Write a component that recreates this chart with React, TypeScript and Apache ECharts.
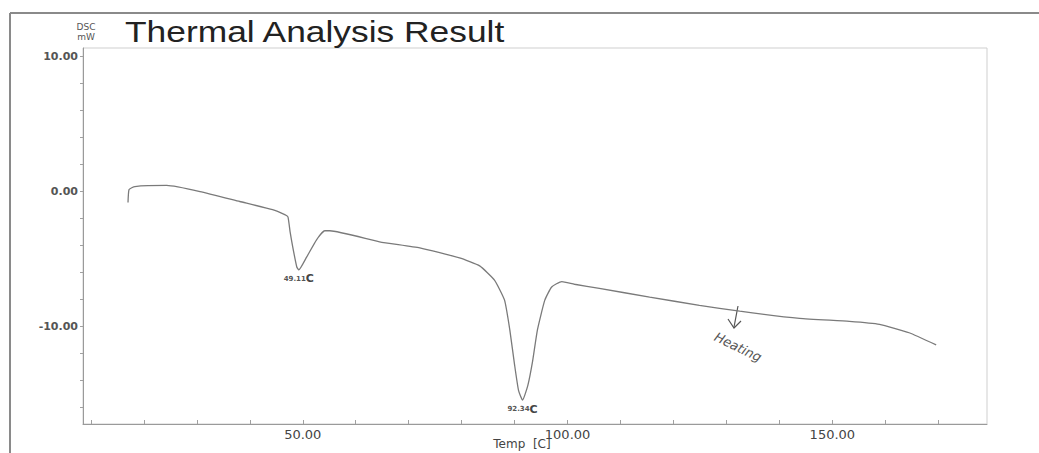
import { useEffect, useRef } from "react";
import * as echarts from "echarts";

const temps = [
  17.0, 17.2, 18.3, 24.3, 30.6, 38.1, 44.3, 46.6, 47.2, 47.6, 48.1, 48.87, 49.25,
  50.75, 52.6, 54.15, 55.1, 64.5, 72.1, 79.6, 83.4, 86.2, 88.1, 89.1, 90.0, 90.75,
  91.5, 92.5, 93.4, 94.3, 95.7, 97.0, 98.9, 101.3, 106.0, 115.5, 124.9, 132.5,
  143.8, 153.2, 158.9, 164.5, 169.6,
];
const dsc = [
  -0.84, 0.13, 0.35, 0.43, -0.02, -0.76, -1.37, -1.74, -1.9, -3.0, -4.13, -5.62, -5.84,
  -4.87, -3.6, -2.93, -2.93, -3.75, -4.2, -4.95, -5.54, -6.59, -8.08, -10.3, -12.9, -14.8,
  -15.5, -14.4, -12.6, -10.3, -8.08, -7.1, -6.7, -6.9, -7.2, -7.86, -8.46, -8.9,
  -9.43, -9.65, -9.87, -10.5, -11.4,
];
const xTickLabels = [50, 100, 150];
const xMinorTicks = [10, 20, 30, 40, 50, 60, 70, 80, 90, 100, 110, 120, 130, 140, 150, 160, 170];
const yTickLabels = [-10, 0, 10];
const yMinorTicks = [-16, -14, -12, -10, -8, -6, -4, -2, 0, 2, 4, 6, 8, 10];
const peakTemps = [49.25, 91.5];
const peakValues = [-5.84, -15.5];
const peakLabels = ["49.11", "92.34"];

export default function App() {
  const ref = useRef<HTMLDivElement>(null);
  useEffect(() => {
    const chart = echarts.init(ref.current!, null, { renderer: "svg" });
    const font = "DejaVu Sans";
    chart.setOption({
      animation: false,
      backgroundColor: "#ffffff",
      grid: {
        left: 83,
        right: 52,
        top: 48,
        bottom: 29,
        show: true,
        borderColor: "#cfcfcf",
        borderWidth: 1,
        backgroundColor: "transparent",
      },
      xAxis: {
        type: "value",
        min: 8.5,
        max: 179.2,
        axisLine: { show: true, onZero: false, lineStyle: { color: "#9a9a9a", width: 1 } },
        axisTick: {
          show: true,
          inside: true,
          length: 4,
          customValues: xMinorTicks,
          lineStyle: { color: "#a0a0a0" },
        },
        axisLabel: {
          customValues: xTickLabels,
          formatter: (v: number) => v.toFixed(2),
          color: "#444",
          fontFamily: font,
          fontSize: 13,
          margin: 4,
        },
        splitLine: { show: false },
      },
      yAxis: {
        type: "value",
        min: -17.27,
        max: 10.63,
        axisLine: { show: true, onZero: false, lineStyle: { color: "#9a9a9a", width: 1 } },
        axisTick: {
          show: true,
          length: 3,
          customValues: yMinorTicks,
          lineStyle: { color: "#a0a0a0" },
        },
        axisLabel: {
          customValues: yTickLabels,
          formatter: (v: number) => v.toFixed(2),
          color: "#555",
          fontFamily: font,
          fontSize: 11,
          fontWeight: "bold",
          margin: 5,
        },
        splitLine: { show: false },
      },
      series: [
        {
          type: "line",
          data: temps.map((t, i) => [t, dsc[i]]),
          showSymbol: false,
          smooth: 0.15,
          lineStyle: { color: "#7a7a7a", width: 1.3 },
          markPoint: {
            symbol: "rect",
            symbolSize: [1, 1],
            itemStyle: { color: "rgba(0,0,0,0)" },
            label: {
              show: true,
              position: "bottom",
              distance: 3,
              formatter: (p: any) => `{n|${p.name}}{c|C}`,
              rich: {
                n: { fontSize: 7, color: "#555", fontFamily: font, fontWeight: "bold" },
                c: { fontSize: 11, color: "#444", fontFamily: font, fontWeight: "bold" },
              },
            },
            data: peakTemps.map((t, i) => ({
              name: peakLabels[i],
              coord: [t, peakValues[i]],
            })),
          },
        },
      ],
      graphic: [
        { type: "line", shape: { x1: 10, y1: 13, x2: 1039, y2: 13 }, style: { stroke: "#8a8a8a", lineWidth: 2 } },
        { type: "line", shape: { x1: 10, y1: 13, x2: 10, y2: 453 }, style: { stroke: "#8a8a8a", lineWidth: 2 } },
        {
          type: "text",
          x: 86,
          y: 27,
          style: { text: "DSC", fontSize: 9, fontFamily: font, fill: "#555", align: "center", verticalAlign: "middle" },
        },
        {
          type: "text",
          x: 86,
          y: 37,
          style: { text: "mW", fontSize: 9, fontFamily: font, fill: "#555", align: "center", verticalAlign: "middle" },
        },
        {
          type: "text",
          x: 125,
          y: 32,
          scaleX: 1.22,
          style: {
            text: "Thermal Analysis Result",
            fontSize: 29,
            fontFamily: "Liberation Sans",
            fill: "#222",
            align: "left",
            verticalAlign: "middle",
          },
        },
        {
          type: "text",
          x: 522,
          y: 444,
          style: { text: "Temp  [C]", fontSize: 12, fontFamily: font, fill: "#444", align: "center", verticalAlign: "middle" },
        },
        { type: "line", shape: { x1: 738, y1: 306, x2: 734, y2: 327 }, style: { stroke: "#555", lineWidth: 1.2 } },
        {
          type: "polyline",
          shape: { points: [[728, 319], [734, 328], [741, 321]] },
          style: { stroke: "#555", lineWidth: 1.2, fill: "none" },
        },
        {
          type: "text",
          x: 738,
          y: 347,
          rotation: -0.45,
          style: {
            text: "Heating",
            fontSize: 13,
            fontStyle: "italic",
            fontFamily: "DejaVu Sans",
            fill: "#555",
            align: "center",
            verticalAlign: "middle",
          },
        },
      ],
    });
    return () => chart.dispose();
  }, []);
  return (
    <div
      ref={ref}
      style={{ position: "absolute", left: 0, top: 0, width: 1039, height: 453, background: "#fff" }}
    />
  );
}
